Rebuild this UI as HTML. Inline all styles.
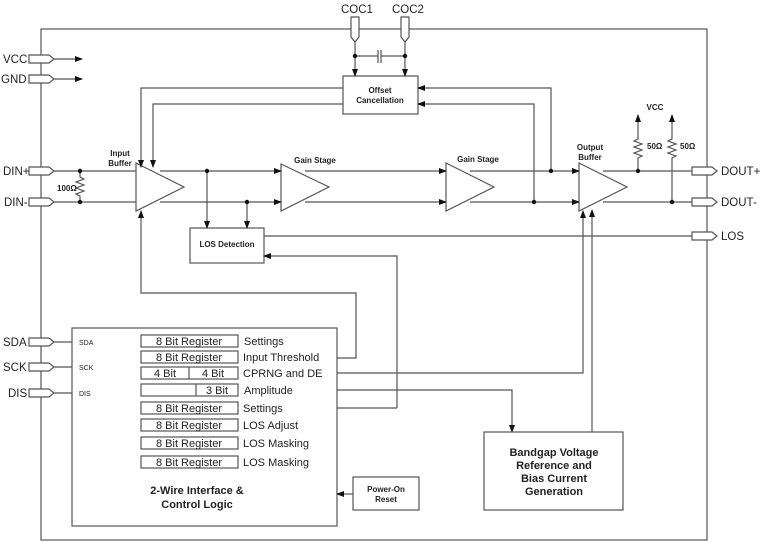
<!DOCTYPE html>
<html><head><meta charset="utf-8"><style>
html,body{margin:0;padding:0;background:#fff}
svg{display:block}
text{font-family:"Liberation Sans",Arial,sans-serif;fill:#222}
.b{font-weight:bold;font-size:8px}
.p{font-size:11.5px}
.r{font-size:11px}
</style></head><body>
<svg width="760" height="542" viewBox="0 0 760 542" xmlns="http://www.w3.org/2000/svg">
<defs>
<marker id="a" markerWidth="8" markerHeight="8" refX="7" refY="4" orient="auto" markerUnits="userSpaceOnUse">
<path d="M0,1 L8,4 L0,7 Z" fill="#111"/></marker>
</defs>
<g stroke="#555" stroke-width="1.2" fill="none">
<rect x="41" y="29" width="666" height="511"/>
<g fill="#fff">
<path d="M29,55 H49 L54,59 L49,63 H29 Z"/>
<path d="M29,75 H49 L54,79 L49,83 H29 Z"/>
<path d="M29,167 H49 L54,171 L49,175 H29 Z"/>
<path d="M29,198 H49 L54,202 L49,206 H29 Z"/>
<path d="M29,338 H49 L54,342 L49,346 H29 Z"/>
<path d="M29,363 H49 L54,367 L49,371 H29 Z"/>
<path d="M29,389 H49 L54,393 L49,397 H29 Z"/>
<path d="M692,167 H712 L717,171 L712,175 H692 Z"/>
<path d="M692,198 H712 L717,202 L712,206 H692 Z"/>
<path d="M692,232 H712 L717,236 L712,240 H692 Z"/>
<path d="M351,17 V37 L355,42 L359,37 V17 Z"/>
<path d="M401,17 V37 L405,42 L409,37 V17 Z"/>
</g>
<line x1="54" y1="59" x2="82" y2="59" marker-end="url(#a)"/>
<line x1="54" y1="79" x2="82" y2="79" marker-end="url(#a)"/>
<line x1="54" y1="342" x2="72" y2="342"/>
<line x1="54" y1="367" x2="72" y2="367"/>
<line x1="54" y1="393" x2="72" y2="393"/>
<line x1="54" y1="171" x2="136" y2="171"/>
<line x1="54" y1="202" x2="136" y2="202"/>
<path d="M80,171 V177 L84,179 L76,182 L84,185 L76,188 L84,191 L76,194 L80,196 V202"/>
<path d="M136,163 L184,187 L136,211 Z"/>
<path d="M281,164 L329,187 L281,211 Z"/>
<path d="M446,163 L494,187 L446,211 Z"/>
<path d="M579,163 L627,187 L579,211 Z"/>
<line x1="160" y1="171" x2="281" y2="171" marker-end="url(#a)"/>
<line x1="160" y1="202" x2="281" y2="202" marker-end="url(#a)"/>
<line x1="305" y1="171" x2="446" y2="171" marker-end="url(#a)"/>
<line x1="305" y1="202" x2="446" y2="202" marker-end="url(#a)"/>
<line x1="470" y1="171" x2="579" y2="171" marker-end="url(#a)"/>
<line x1="470" y1="202" x2="579" y2="202" marker-end="url(#a)"/>
<line x1="603" y1="171" x2="692" y2="171"/>
<line x1="603" y1="202" x2="692" y2="202"/>
<rect x="190" y="228" width="74" height="35"/>
<line x1="207" y1="171" x2="207" y2="228" marker-end="url(#a)"/>
<line x1="247" y1="202" x2="247" y2="228" marker-end="url(#a)"/>
<line x1="264" y1="236" x2="692" y2="236"/>
<path d="M397,408 V256 H264" marker-end="url(#a)"/>
<rect x="343" y="76" width="75" height="38"/>
<path d="M551,171 V88 H418" marker-end="url(#a)"/>
<path d="M534,202 V104 H418" marker-end="url(#a)"/>
<path d="M343,88 H141 V167" marker-end="url(#a)"/>
<path d="M343,104 H153 V167" marker-end="url(#a)"/>
<line x1="355" y1="42" x2="355" y2="76" marker-end="url(#a)"/>
<line x1="405" y1="42" x2="405" y2="76" marker-end="url(#a)"/>
<line x1="355" y1="56" x2="378" y2="56"/>
<line x1="381" y1="56" x2="405" y2="56"/>
<line x1="378" y1="50" x2="378" y2="63"/>
<line x1="381" y1="50" x2="381" y2="63"/>
<path d="M638,171 V158 L642,156 L634,153 L642,150 L634,147 L642,144 L634,141 L638,139 V115" marker-end="url(#a)"/>
<path d="M672,202 V158 L676,156 L668,153 L676,150 L668,147 L676,144 L668,141 L672,139 V115" marker-end="url(#a)"/>
<rect x="72" y="328" width="265" height="198"/>
<path d="M337,358 H356 V293 H141 V211" marker-end="url(#a)"/>
<path d="M337,373 H583 V211" marker-end="url(#a)"/>
<path d="M337,390 H512 V432" marker-end="url(#a)"/>
<line x1="337" y1="408" x2="397" y2="408"/>
<rect x="484" y="432" width="139" height="78"/>
<line x1="592" y1="432" x2="592" y2="210" marker-end="url(#a)"/>
<rect x="353" y="477" width="66" height="33"/>
<line x1="353" y1="494" x2="337" y2="494" marker-end="url(#a)"/>
<rect x="141" y="335" width="97" height="12"/>
<rect x="141" y="351" width="97" height="12"/>
<rect x="141" y="367" width="97" height="12"/>
<line x1="189" y1="367" x2="189" y2="379"/>
<rect x="141" y="384" width="97" height="12"/>
<line x1="196" y1="384" x2="196" y2="396"/>
<rect x="141" y="402" width="97" height="12"/>
<rect x="141" y="419" width="97" height="12"/>
<rect x="141" y="437" width="97" height="12"/>
<rect x="141" y="456" width="97" height="12"/>
</g>
<g fill="#111">
<circle cx="80" cy="171" r="2.2"/><circle cx="80" cy="202" r="2.2"/>
<circle cx="207" cy="171" r="2.2"/><circle cx="247" cy="202" r="2.2"/>
<circle cx="551" cy="171" r="2.2"/><circle cx="534" cy="202" r="2.2"/>
<circle cx="638" cy="171" r="2.2"/><circle cx="672" cy="202" r="2.2"/>
<circle cx="355" cy="56" r="2.2"/><circle cx="405" cy="56" r="2.2"/>
</g>
<text class="p" x="3" y="63">VCC</text>
<text class="p" x="1" y="83">GND</text>
<text class="p" x="3" y="175">DIN+</text>
<text class="p" x="4" y="206">DIN-</text>
<text class="p" x="3" y="346">SDA</text>
<text class="p" x="3" y="371">SCK</text>
<text class="p" x="8" y="397">DIS</text>
<text class="p" x="721" y="175">DOUT+</text>
<text class="p" x="721" y="206">DOUT-</text>
<text class="p" x="721" y="240">LOS</text>
<text class="p" x="341" y="13">COC1</text>
<text class="p" x="392" y="13">COC2</text>
<text class="b" x="57" y="191">100Ω</text>
<text class="b" x="120" y="156" text-anchor="middle">Input</text>
<text class="b" x="120" y="166" text-anchor="middle">Buffer</text>
<text class="b" x="315" y="163" text-anchor="middle">Gain Stage</text>
<text class="b" x="478" y="162" text-anchor="middle">Gain Stage</text>
<text class="b" x="590" y="150" text-anchor="middle">Output</text>
<text class="b" x="590" y="160" text-anchor="middle">Buffer</text>
<text class="b" x="655" y="110" text-anchor="middle">VCC</text>
<text class="b" x="647" y="149">50Ω</text>
<text class="b" x="680" y="149">50Ω</text>
<text class="b" x="380" y="93" text-anchor="middle">Offset</text>
<text class="b" x="380" y="103" text-anchor="middle">Cancellation</text>
<text class="b" x="227" y="247" text-anchor="middle">LOS Detection</text>
<text class="b" x="386" y="492" text-anchor="middle">Power-On</text>
<text class="b" x="386" y="502" text-anchor="middle">Reset</text>
<g style="font-size:7px"><text x="79" y="345">SDA</text><text x="79" y="370">SCK</text><text x="79" y="396">DIS</text></g>
<g class="r" text-anchor="middle">
<text x="189" y="345">8 Bit Register</text>
<text x="189" y="361">8 Bit Register</text>
<text x="165" y="377">4 Bit</text>
<text x="213" y="377">4 Bit</text>
<text x="217" y="394">3 Bit</text>
<text x="189" y="412">8 Bit Register</text>
<text x="189" y="429">8 Bit Register</text>
<text x="189" y="447">8 Bit Register</text>
<text x="189" y="466">8 Bit Register</text>
</g>
<g class="r">
<text x="244" y="345">Settings</text>
<text x="243" y="361">Input Threshold</text>
<text x="243" y="377">CPRNG and DE</text>
<text x="244" y="394">Amplitude</text>
<text x="243" y="412">Settings</text>
<text x="243" y="429">LOS Adjust</text>
<text x="243" y="447">LOS Masking</text>
<text x="243" y="466">LOS Masking</text>
</g>
<g style="font-weight:bold;font-size:11px" text-anchor="middle">
<text x="197" y="494">2-Wire Interface &amp;</text>
<text x="197" y="508">Control Logic</text>
<text x="554" y="456">Bandgap Voltage</text>
<text x="554" y="469">Reference and</text>
<text x="554" y="482">Bias Current</text>
<text x="554" y="495">Generation</text>
</g>
</svg>
</body></html>
